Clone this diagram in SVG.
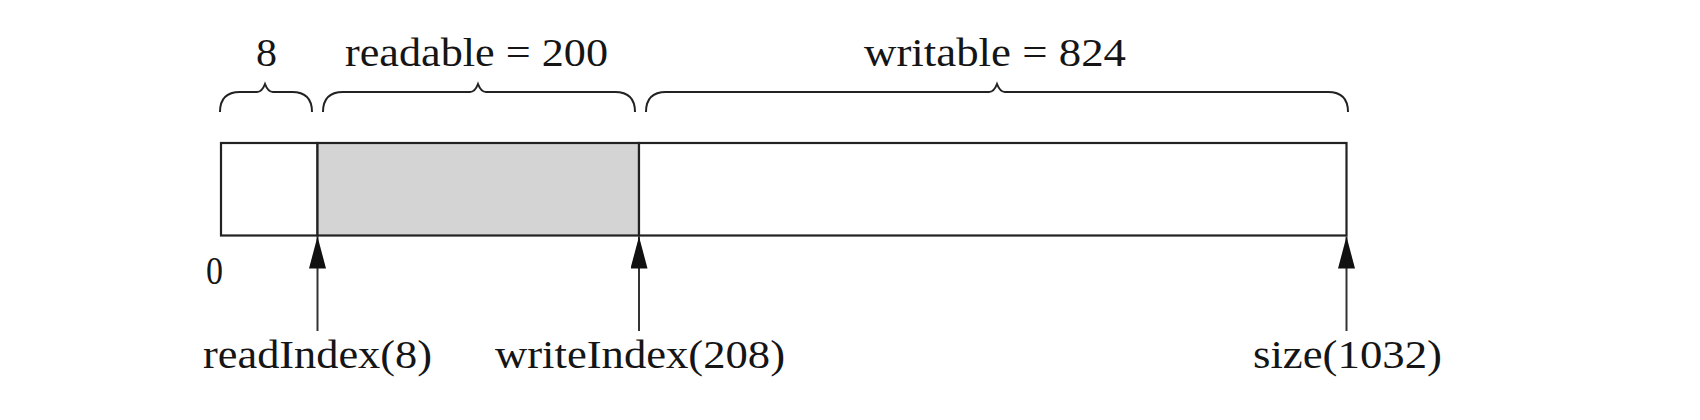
<svg xmlns="http://www.w3.org/2000/svg" width="1700" height="420" viewBox="0 0 1700 420">
<defs>
<style>
.t{font-family:"Liberation Serif","Times New Roman",serif;font-size:41px;fill:#151515}
.brace{fill:none;stroke:#222;stroke-width:2}
.box{stroke:#222;stroke-width:2.2}
.arr{stroke:#333;stroke-width:2;fill:none}
</style>
<marker id="ah" viewBox="0 0 10 10" refX="10" refY="5" markerWidth="32" markerHeight="17" markerUnits="userSpaceOnUse" orient="auto" preserveAspectRatio="none">
<path d="M0,0 L10,5 L0,10 Z" fill="#111"/>
</marker>
</defs>
<rect width="1700" height="420" fill="#fff"/>
<g id="labels-top">
<text class="t" x="256" y="66" textLength="21" lengthAdjust="spacingAndGlyphs">8</text>
<text class="t" x="345" y="66" textLength="263" lengthAdjust="spacingAndGlyphs">readable = 200</text>
<text class="t" x="864" y="66" textLength="262" lengthAdjust="spacingAndGlyphs">writable = 824</text>
</g>
<g id="braces">
<path class="brace" d="M220,112 Q220,92 240,92 L257,92 Q262,92 265,84 Q268,92 273,92 L292,92 Q312,92 312,112"/>
<path class="brace" d="M323,112 Q323,92 343,92 L470,92 Q475,92 478,84 Q481,92 486,92 L615,92 Q635,92 635,112"/>
<path class="brace" d="M646,112 Q646,92 666,92 L989,92 Q994,92 997,84 Q1000,92 1005,92 L1328,92 Q1348,92 1348,112"/>
</g>
<g id="buffer">
<rect id="prepend" class="box" x="221" y="143" width="96.5" height="92.5" fill="#fff"/>
<rect id="readable" class="box" x="317.5" y="143" width="321.5" height="92.5" fill="#d4d4d4"/>
<rect id="writable" class="box" x="639" y="143" width="707.5" height="92.5" fill="#fff"/>
</g>
<g id="connectors">
<line class="arr" x1="317.5" y1="331" x2="317.5" y2="236.5" marker-end="url(#ah)"/>
<line class="arr" x1="639" y1="331" x2="639" y2="236.5" marker-end="url(#ah)"/>
<line class="arr" x1="1346.5" y1="331" x2="1346.5" y2="236.5" marker-end="url(#ah)"/>
</g>
<g id="labels-bottom">
<text class="t" x="206" y="284" textLength="17" lengthAdjust="spacingAndGlyphs">0</text>
<text class="t" x="203" y="368" textLength="229" lengthAdjust="spacingAndGlyphs">readIndex(8)</text>
<text class="t" x="495" y="368" textLength="290" lengthAdjust="spacingAndGlyphs">writeIndex(208)</text>
<text class="t" x="1253" y="368" textLength="189" lengthAdjust="spacingAndGlyphs">size(1032)</text>
</g>
</svg>
